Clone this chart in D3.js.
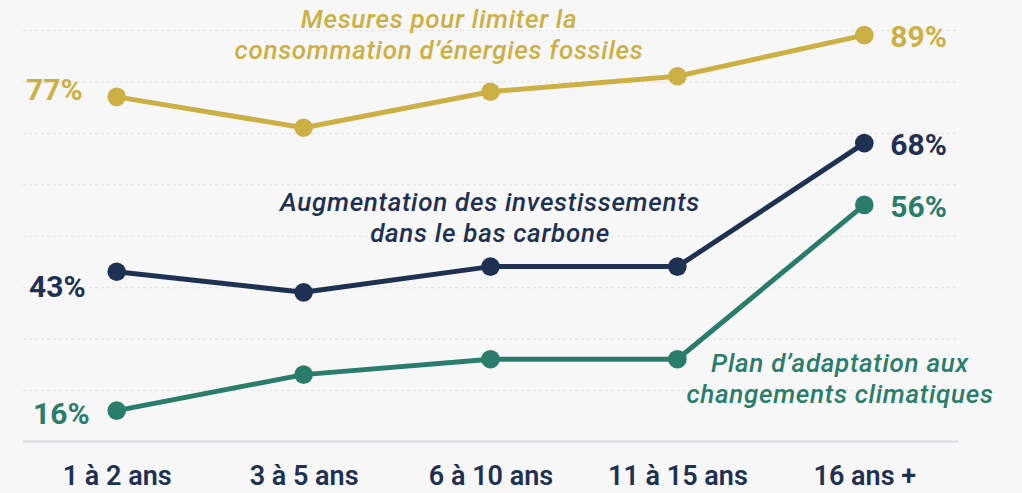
<!DOCTYPE html>
<html lang="fr">
<head>
<meta charset="utf-8">
<title>ancienneté</title>
<script src="https://d3js.org/d3.v7.min.js"></script>
<style>
  html, body { margin: 0; padding: 0; background: #f7f7f7; }
  svg { display: block; font-family: "Roboto", "Liberation Sans", sans-serif; }
  .grid line { stroke: #e2e2e2; stroke-width: 1; stroke-dasharray: 3,3; }
  .grid .domain { display: none; }
  .xaxis text { font-size: 27px; font-weight: 600; fill: #1e3152; font-family: "Roboto", sans-serif; }
  .pct { font-size: 30px; font-weight: 700; }
  .name { font-size: 26px; font-weight: 500; font-style: italic; letter-spacing: 0.7px; }
</style>
</head>
<body>
<div id="chart"></div>
<script>
var width = 1022;
var height = 493;

// données
var categories = ["1 à 2 ans", "3 à 5 ans", "6 à 10 ans", "11 à 15 ans", "16 ans +"];
var fossiles = [77, 71, 78, 81, 89];
var basCarbone = [43, 39, 44, 44, 68];
var adaptation = [16, 23, 26, 26, 56];
var seriesNames = [
  ["Mesures pour limiter la", "consommation d\u2019énergies fossiles"],
  ["Augmentation des investissements", "dans le bas carbone"],
  ["Plan d\u2019adaptation aux", "changements climatiques"]
];
var gridTicks = [20, 30, 40, 50, 60, 70, 80, 90];

var series = [fossiles, basCarbone, adaptation];

// couleurs et placement des étiquettes
var colors = ["#ccb045", "#1f3152", "#2a7d6b"];
var leftLabel = [{dx: -34, dy: 3}, {dx: -31, dy: 25}, {dx: -27, dy: 13}];
var namePos = [{x: 439, y: 28}, {x: 490, y: 211}, {x: 840, y: 372}];

var svg = d3.select("#chart").append("svg")
  .attr("width", width)
  .attr("height", height);

svg.append("rect").attr("width", width).attr("height", height).attr("fill", "#f7f7f7");

var x = d3.scalePoint()
  .domain(categories)
  .range([116.7, 864.3]);

var y = d3.scaleLinear()
  .domain([10, 90])
  .range([441.5, 30]);

// grille pointillée
svg.append("g")
  .attr("class", "grid")
  .attr("transform", "translate(23,0)")
  .call(d3.axisRight(y).tickValues(gridTicks).tickSize(935).tickFormat(""));

// ligne de base
svg.append("line")
  .attr("x1", 23).attr("x2", 958)
  .attr("y1", y(10)).attr("y2", y(10))
  .attr("stroke", "#d7dce3")
  .attr("stroke-width", 2);

// axe des x
var xAxis = svg.append("g")
  .attr("class", "xaxis")
  .attr("transform", "translate(0," + y(10) + ")")
  .call(d3.axisBottom(x).tickSize(0));
xAxis.select(".domain").remove();
xAxis.selectAll("text").attr("dy", null).attr("y", 43);

var line = d3.line()
  .x(function(d, i) { return x(categories[i]); })
  .y(function(d) { return y(d); });

series.forEach(function(vals, s) {
  var g = svg.append("g");

  g.append("path")
    .datum(vals)
    .attr("d", line)
    .attr("fill", "none")
    .attr("stroke", colors[s])
    .attr("stroke-width", 5)
    .attr("stroke-linejoin", "round");

  g.selectAll("circle")
    .data(vals)
    .enter()
    .append("circle")
    .attr("cx", function(d, i) { return x(categories[i]); })
    .attr("cy", function(d) { return y(d); })
    .attr("r", 9.3)
    .attr("fill", colors[s]);

  var first = vals[0], last = vals[vals.length - 1];

  g.append("text")
    .attr("class", "pct")
    .attr("text-anchor", "end")
    .attr("x", x(categories[0]) + leftLabel[s].dx)
    .attr("y", y(first) + leftLabel[s].dy)
    .attr("fill", colors[s])
    .text(first + "%");

  g.append("text")
    .attr("class", "pct")
    .attr("text-anchor", "start")
    .attr("x", x(categories[categories.length - 1]) + 26)
    .attr("y", y(last) + 12)
    .attr("fill", colors[s])
    .text(last + "%");

  var t = g.append("text")
    .attr("class", "name")
    .attr("text-anchor", "middle")
    .attr("fill", colors[s]);
  seriesNames[s].forEach(function(l, k) {
    t.append("tspan")
      .attr("x", namePos[s].x)
      .attr("y", namePos[s].y + k * 31)
      .text(l);
  });
});
</script>
</body>
</html>
